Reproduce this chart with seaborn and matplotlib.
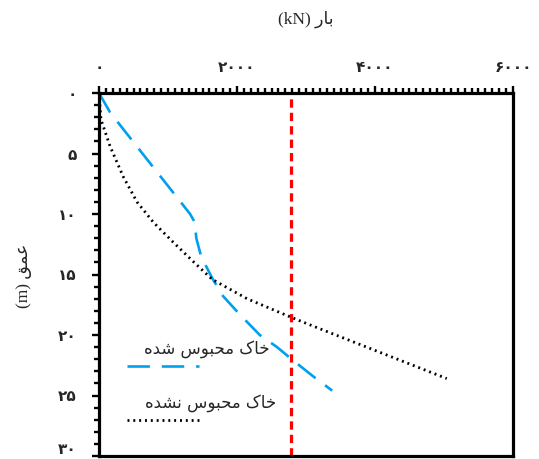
import matplotlib
matplotlib.use("Agg")
import matplotlib.pyplot as plt
from matplotlib.lines import Line2D
from matplotlib.offsetbox import AnchoredOffsetbox, DrawingArea, HPacker, TextArea, VPacker
from matplotlib.ticker import FuncFormatter, MultipleLocator
import numpy as np
import pandas as pd
import seaborn as sns

# curve: load (kN) vs depth (m)
confined_load = [0, 160, 1320, 1390, 1410, 1480, 1640, 1800, 2040, 2330, 2580, 2770, 3100, 3380]
confined_depth = [0, 1.6, 10.0, 10.7, 12.0, 13.5, 15.3, 16.8, 18.3, 20.0, 21.0, 21.9, 23.4, 24.6]

unconfined_load = [0, 29, 160, 350, 550, 790, 1070, 1360, 1640, 2145, 2770, 3030, 5040]
unconfined_depth = [0, 2.2, 4.4, 6.9, 9.0, 10.7, 12.3, 13.9, 15.4, 17.0, 18.5, 19.1, 23.6]

limit_load = 2780

# Arabic text written in visual order with presentation forms (no shaping in matplotlib)
x_title = "(kN) \uFEAD\uFE8E\uFE91"                      # بار (kN)
y_title = "(m) \uFED6\uFEE4\uFECB"                       # عمق (m)
label_confined = "\uFEE9\uFEAA\uFEB7 \uFEB1\uFEEE\uFE92\uFEA4\uFEE3 \uFB8E\uFE8E\uFEA7"        # خاک محبوس شده
label_unconfined = "\uFEE9\uFEAA\uFEB8\uFEE7 \uFEB1\uFEEE\uFE92\uFEA4\uFEE3 \uFB8E\uFE8E\uFEA7"  # خاک محبوس نشده

fa_digits = str.maketrans("0123456789", "۰۱۲۳۴۵۶۷۸۹")

def to_persian(v, pos):
    return str(int(round(v))).translate(fa_digits)

sns.set_theme(style="white")
plt.rcParams["font.family"] = ["Liberation Serif", "DejaVu Sans"]

blue = "#00A0EE"
blue_ls = (0, (8.5, 4.5))
dot_ls = (0, (0.7, 1.4))

df_c = pd.DataFrame({"load": confined_load, "depth": confined_depth})
df_u = pd.DataFrame({"load": unconfined_load, "depth": unconfined_depth})

fig = plt.figure(figsize=(5.39, 4.60), dpi=100)
ax = fig.add_axes([99 / 539, 1 - 457 / 460, 414 / 539, 363 / 460])

sns.lineplot(data=df_c, x="load", y="depth", sort=False, estimator=None,
             color=blue, linewidth=1.9, linestyle=blue_ls, ax=ax)
sns.lineplot(data=df_u, x="load", y="depth", sort=False, estimator=None,
             color="black", linewidth=2.0, linestyle=dot_ls, ax=ax)
ax.axvline(limit_load, color="#FF0000", linewidth=2.3, linestyle=(0, (2.6, 1.6)))

ax.set_xlim(0, 6000)
ax.set_ylim(30, 0)

ax.xaxis.tick_top()
ax.xaxis.set_label_position("top")
ax.xaxis.set_major_locator(MultipleLocator(2000))
ax.xaxis.set_minor_locator(MultipleLocator(100))
ax.yaxis.set_major_locator(MultipleLocator(5))
ax.yaxis.set_minor_locator(MultipleLocator(1))
ax.xaxis.set_major_formatter(FuncFormatter(to_persian))
ax.yaxis.set_major_formatter(FuncFormatter(to_persian))

ax.tick_params(which="both", direction="out", color="black", width=1.7)
ax.tick_params(which="major", length=5)
ax.tick_params(which="minor", length=3.5)
ax.tick_params(axis="x", which="both", top=True, bottom=False, labelsize=11, pad=9)
ax.tick_params(axis="y", which="both", left=True, right=False, labelsize=11, pad=11)

for s in ax.spines.values():
    s.set_color("black")
    s.set_linewidth(2.3)

ax.set_xlabel(x_title, fontsize=12.5, labelpad=27)
ax.set_ylabel(y_title, fontsize=12.5, labelpad=19)


def legend_entry(text, indent, color, ls, lw):
    ta = TextArea(text, textprops=dict(fontsize=12, family=["DejaVu Sans"]))
    row = HPacker(children=[DrawingArea(indent, 1), ta], pad=0, sep=0)
    da = DrawingArea(52, 6)
    da.add_artist(Line2D([0, 52], [3, 3], color=color, linestyle=ls, linewidth=lw))
    return VPacker(children=[row, da], align="left", pad=0, sep=3)


box1 = AnchoredOffsetbox(loc="upper left", child=legend_entry(label_confined, 12, blue, blue_ls, 1.9),
                         bbox_to_anchor=(127 / 539, 1 - 340 / 460), bbox_transform=fig.transFigure,
                         frameon=False, pad=0, borderpad=0)
box2 = AnchoredOffsetbox(loc="upper left", child=legend_entry(label_unconfined, 13, "black", dot_ls, 2.0),
                         bbox_to_anchor=(127 / 539, 1 - 394 / 460), bbox_transform=fig.transFigure,
                         frameon=False, pad=0, borderpad=0)
ax.add_artist(box1)
ax.add_artist(box2)

fig.canvas.draw()
for lab in ax.get_xticklabels() + ax.get_yticklabels():
    lab.set_fontweight("bold")
# bottom label sits at the figure edge, lift it above its tick
for t in ax.yaxis.get_major_ticks():
    if abs(t.get_loc() - 30) < 1e-6:
        t.label1.set_va("bottom")

fig.savefig("out.png", dpi=100)
